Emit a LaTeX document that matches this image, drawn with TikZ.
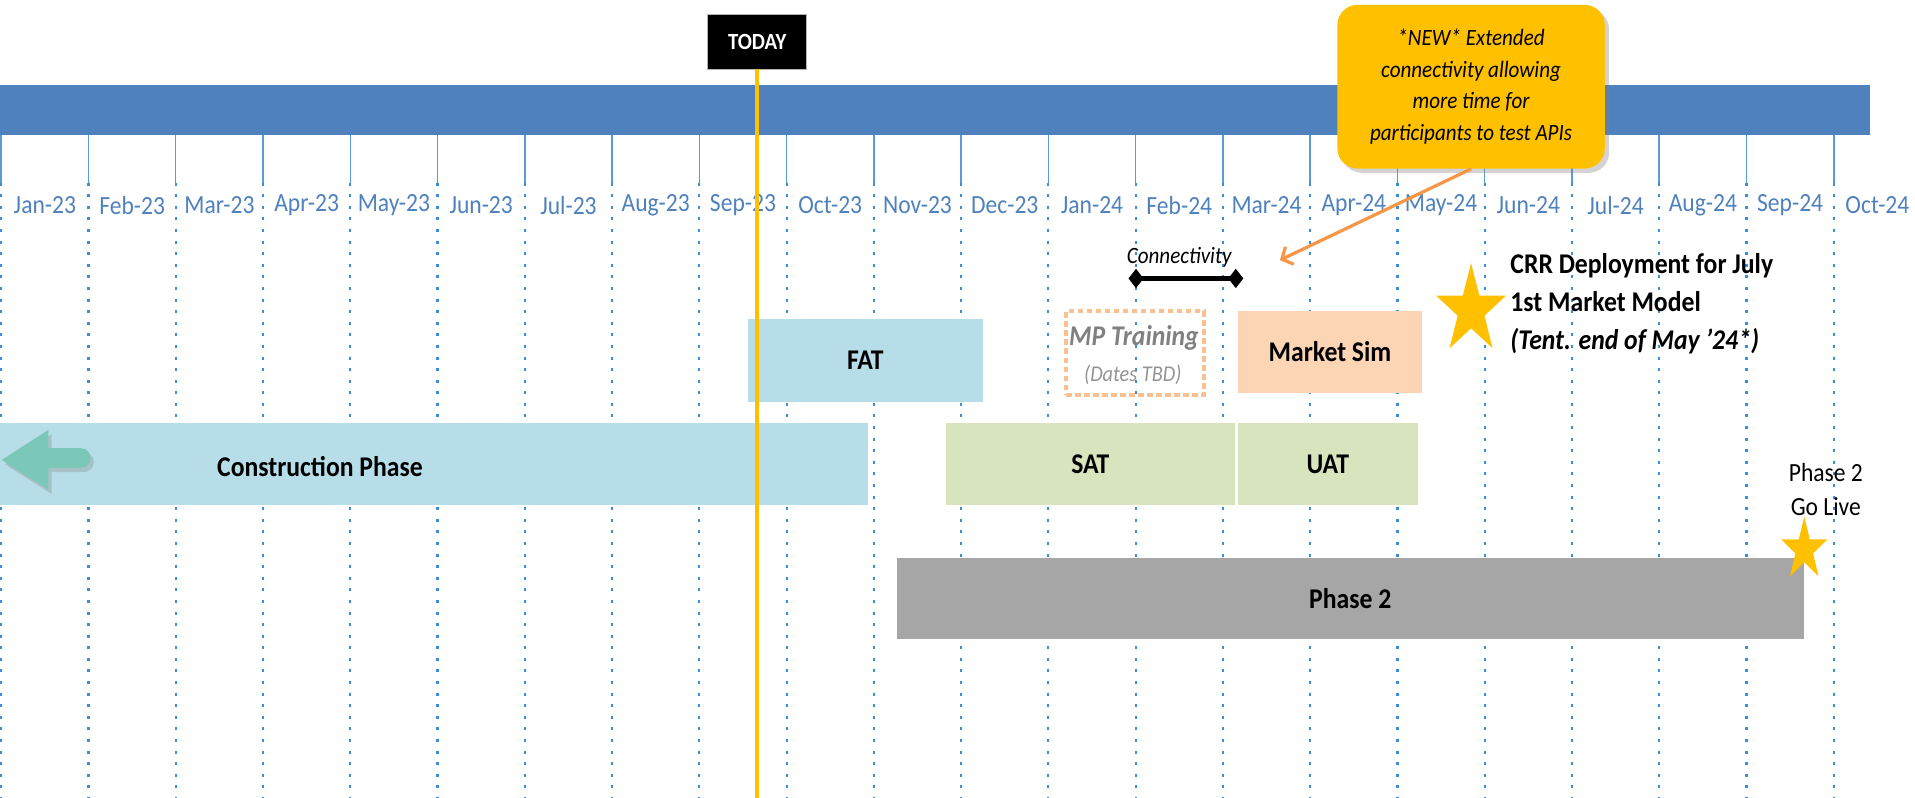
\documentclass[tikz,border=0pt]{standalone}
\usepackage{fontspec}
\setmainfont{Carlito}[FakeStretch = 0.9]
\usetikzlibrary{shapes.geometric, shadows, arrows.meta}

\definecolor{bandblue}{HTML}{4F81BD}
\definecolor{monthblue}{HTML}{4F81BD}
\definecolor{tickblue}{HTML}{5B9BD5}
\definecolor{dotblue}{HTML}{3A8FDB}
\definecolor{todayyellow}{HTML}{FFC000}
\definecolor{fatblue}{HTML}{B7DEE8}
\definecolor{satgreen}{HTML}{D7E4BD}
\definecolor{simpeach}{HTML}{FCD5B5}
\definecolor{phasegray}{HTML}{A6A6A6}
\definecolor{trainorange}{HTML}{FAC090}
\definecolor{arrowteal}{HTML}{7CC8B8}
\definecolor{linkorange}{HTML}{F79646}

\tikzset{
  monthlabel/.style = {inner sep = 0pt, text = monthblue, font = \fontsize{12.2pt}{14pt}\selectfont},
  tickline/.style = {draw = tickblue, line width = 0.7pt},
  gridline/.style = {draw = dotblue, line width = 1pt, dash pattern = on 1.4pt off 4pt},
  phasebox/.style = {inner sep = 0pt, font = \fontsize{13.3pt}{15pt}\selectfont\bfseries},
  phasetext/.style = {inner sep = 0pt, font = \fontsize{13.3pt}{15pt}\selectfont\bfseries},
  trainbox/.style = {draw = trainorange, line width = 1.9pt, dash pattern = on 2.6pt off 1.6pt, inner sep = 0pt},
  todaybox/.style = {fill = black, draw = gray!60, line width = 0.4pt, text = white, inner sep = 0pt, font = \fontsize{10.8pt}{12pt}\selectfont\bfseries},
  todayline/.style = {draw = todayyellow, line width = 1.9pt},
  callout/.style = {fill = todayyellow, rounded corners = 0.33cm, inner sep = 0pt, align = center, drop shadow = {shadow xshift = 2pt, shadow yshift = -2pt, opacity = 0.35}, font = \fontsize{10.9pt}{14.7pt}\selectfont\itshape},
  linkarrow/.style = {draw = linkorange, line width = 1.5pt, -{Straight Barb[length = 4pt, width = 9pt]}},
  connarrow/.style = {draw = black, line width = 2.3pt, {Diamond[length = 7pt, width = 9pt]}-{Diamond[length = 7pt, width = 9pt]}},
  starmark/.style = {star, star points = 5, star point ratio = 2.6, fill = todayyellow, inner sep = 0pt}
}

\begin{document}
\begin{tikzpicture} [scale = 1]
\useasboundingbox (0.0, 0.0) rectangle (31.36, 13.068);
\draw[gridline] (0.02, 10.076) -- (0.02, 0.0);
\draw[gridline] (1.449, 10.076) -- (1.449, 0.0);
\draw[gridline] (2.878, 10.076) -- (2.878, 0.0);
\draw[gridline] (4.307, 10.076) -- (4.307, 0.0);
\draw[gridline] (5.736, 10.076) -- (5.736, 0.0);
\draw[gridline] (7.165, 10.076) -- (7.165, 0.0);
\draw[gridline] (8.594, 10.076) -- (8.594, 0.0);
\draw[gridline] (10.023, 10.076) -- (10.023, 0.0);
\draw[gridline] (11.452, 10.076) -- (11.452, 0.0);
\draw[gridline] (12.881, 10.076) -- (12.881, 0.0);
\draw[gridline] (14.31, 10.076) -- (14.31, 0.0);
\draw[gridline] (15.739, 10.076) -- (15.739, 0.0);
\draw[gridline] (17.168, 10.076) -- (17.168, 0.0);
\draw[gridline] (18.597, 10.076) -- (18.597, 0.0);
\draw[gridline] (20.026, 10.076) -- (20.026, 0.0);
\draw[gridline] (21.455, 10.076) -- (21.455, 0.0);
\draw[gridline] (22.884, 10.076) -- (22.884, 0.0);
\draw[gridline] (24.313, 10.076) -- (24.313, 0.0);
\draw[gridline] (25.742, 10.076) -- (25.742, 0.0);
\draw[gridline] (27.171, 10.076) -- (27.171, 0.0);
\draw[gridline] (28.6, 10.076) -- (28.6, 0.0);
\draw[gridline] (30.029, 10.076) -- (30.029, 0.0);
\fill[bandblue] (0.0, 10.858) rectangle (30.62, 11.676);
\draw[tickline] (0.02, 10.858) -- (0.02, 10.076);
\draw[tickline] (1.449, 10.858) -- (1.449, 10.076);
\draw[tickline] (2.878, 10.858) -- (2.878, 10.076);
\draw[tickline] (4.307, 10.858) -- (4.307, 10.076);
\draw[tickline] (5.736, 10.858) -- (5.736, 10.076);
\draw[tickline] (7.165, 10.858) -- (7.165, 10.076);
\draw[tickline] (8.594, 10.858) -- (8.594, 10.076);
\draw[tickline] (10.023, 10.858) -- (10.023, 10.076);
\draw[tickline] (11.452, 10.858) -- (11.452, 10.076);
\draw[tickline] (12.881, 10.858) -- (12.881, 10.076);
\draw[tickline] (14.31, 10.858) -- (14.31, 10.076);
\draw[tickline] (15.739, 10.858) -- (15.739, 10.076);
\draw[tickline] (17.168, 10.858) -- (17.168, 10.076);
\draw[tickline] (18.597, 10.858) -- (18.597, 10.076);
\draw[tickline] (20.026, 10.858) -- (20.026, 10.076);
\draw[tickline] (21.455, 10.858) -- (21.455, 10.076);
\draw[tickline] (22.884, 10.858) -- (22.884, 10.076);
\draw[tickline] (24.313, 10.858) -- (24.313, 10.076);
\draw[tickline] (25.742, 10.858) -- (25.742, 10.076);
\draw[tickline] (27.171, 10.858) -- (27.171, 10.076);
\draw[tickline] (28.6, 10.858) -- (28.6, 10.076);
\draw[tickline] (30.029, 10.858) -- (30.029, 10.076);
\node[monthlabel] (jan23) at (0.735, 9.708){Jan-23};
\node[monthlabel] (feb23) at (2.164, 9.708){Feb-23};
\node[monthlabel] (mar23) at (3.593, 9.708){Mar-23};
\node[monthlabel] (apr23) at (5.022, 9.708){Apr-23};
\node[monthlabel] (may23) at (6.451, 9.708){May-23};
\node[monthlabel] (jun23) at (7.880, 9.708){Jun-23};
\node[monthlabel] (jul23) at (9.309, 9.708){Jul-23};
\node[monthlabel] (aug23) at (10.738, 9.708){Aug-23};
\node[monthlabel] (sep23) at (12.167, 9.708){Sep-23};
\node[monthlabel] (oct23) at (13.596, 9.708){Oct-23};
\node[monthlabel] (nov23) at (15.025, 9.708){Nov-23};
\node[monthlabel] (dec23) at (16.454, 9.708){Dec-23};
\node[monthlabel] (jan24) at (17.883, 9.708){Jan-24};
\node[monthlabel] (feb24) at (19.312, 9.708){Feb-24};
\node[monthlabel] (mar24) at (20.741, 9.708){Mar-24};
\node[monthlabel] (apr24) at (22.170, 9.708){Apr-24};
\node[monthlabel] (may24) at (23.599, 9.708){May-24};
\node[monthlabel] (jun24) at (25.028, 9.708){Jun-24};
\node[monthlabel] (jul24) at (26.457, 9.708){Jul-24};
\node[monthlabel] (aug24) at (27.886, 9.708){Aug-24};
\node[monthlabel] (sep24) at (29.315, 9.708){Sep-24};
\node[monthlabel] (oct24) at (30.744, 9.708){Oct-24};
\node[phasebox, fill = fatblue, minimum width = 3.838cm, minimum height = 1.348cm] (fat) at (14.171, 7.164){FAT};
\node[trainbox, minimum width = 2.26cm, minimum height = 1.368cm] (mptrain) at (18.59, 7.284){};
\node[inner sep = 0pt, text = gray, font = \fontsize{13.3pt}{15pt}\selectfont\bfseries\itshape] (mplabel) at (18.57, 7.528){MP Training};
\node[inner sep = 0pt, text = gray!85, font = \fontsize{10.5pt}{12pt}\selectfont\itshape] (mpdates) at (18.55, 6.928){(Dates TBD)};
\node[phasebox, fill = simpeach, minimum width = 3.0cm, minimum height = 1.33cm] (msim) at (21.78, 7.303){Market Sim};
\node[phasebox, fill = fatblue, minimum width = 14.216cm, minimum height = 1.34cm] (constr) at (7.108, 5.468){};
\node[phasetext] (constrlabel) at (5.24, 5.428){Construction Phase};
\fill[arrowteal, drop shadow = {shadow xshift = 1.5pt, shadow yshift = -2pt, opacity = 0.3}] (0.028, 5.536) -- (0.792, 6.028) -- (0.792, 5.728) -- (1.324, 5.728) arc[start angle = 90, end angle = -90, radius = 0.16] -- (0.792, 5.408) -- (0.792, 5.048) -- cycle;
\node[phasebox, fill = satgreen, minimum width = 4.73cm, minimum height = 1.34cm] (sat) at (17.855, 5.468){SAT};
\node[phasebox, fill = satgreen, minimum width = 2.952cm, minimum height = 1.34cm] (uat) at (21.744, 5.468){UAT};
\node[phasebox, fill = phasegray, minimum width = 14.846cm, minimum height = 1.332cm] (phase2) at (22.111, 3.27){Phase 2};
\node[inner sep = 0pt, font = \fontsize{10.9pt}{12pt}\selectfont\itshape] (connlabel) at (19.31, 8.848){Connectivity};
\coordinate (connleft) at (18.48, 8.508);
\coordinate (connright) at (20.36, 8.508);
\draw[connarrow] (connleft) -- (connright);
\begin{scope}[shift = {(24.09, 7.988)}, yscale = 1.283]
\node[starmark, transform shape, minimum size = 1.2cm] (crrstar) at (0.0, 0.0){};
\end{scope}
\node[inner sep = 0pt, anchor = west, align = left, font = \fontsize{13.3pt}{17.8pt}\selectfont\bfseries] (crrnote) at (24.728, 8.096){CRR Deployment for July\\1st Market Model\\\textit{(Tent. end of May ’24*)}};
\begin{scope}[shift = {(29.546, 4.068)}, yscale = 1.357]
\node[starmark, transform shape, minimum size = 0.796cm] (livestar) at (0.0, 0.0){};
\end{scope}
\node[inner sep = 0pt, align = center, font = \fontsize{12.2pt}{15.9pt}\selectfont] (golive) at (29.9, 5.048){Phase 2\\Go Live};
\node[todaybox, minimum width = 1.62cm, minimum height = 0.89cm] (today) at (12.4, 12.382){TODAY};
\coordinate (todayend) at (12.4, 0.0);
\draw[todayline] (today.south) -- (todayend);
\node[callout, minimum width = 4.38cm, minimum height = 2.68cm] (callout) at (24.09, 11.648){*NEW* Extended\\connectivity allowing\\more time for\\participants to test APIs};
\coordinate (conntip) at (20.96, 8.808);
\draw[linkarrow] (callout.south) -- (conntip);
\end{tikzpicture}
\end{document}
